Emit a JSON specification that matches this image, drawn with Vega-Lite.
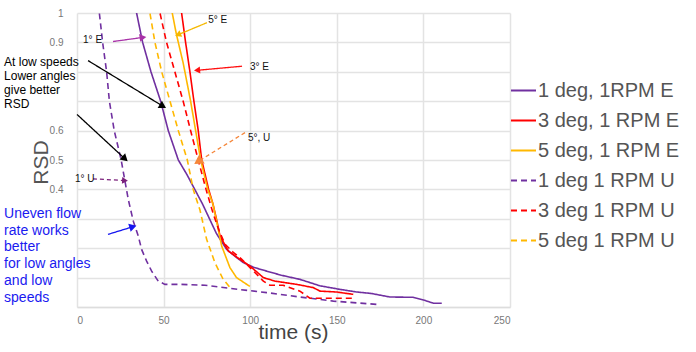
{
  "$schema": "https://vega.github.io/schema/vega-lite/v6.json",
  "width": 433,
  "height": 294,
  "autosize": {"type": "none"},
  "padding": {"left": 77, "top": 13, "right": 186, "bottom": 45},
  "background": "white",
  "config": {
    "view": {"stroke": null},
    "font": "Liberation Sans",
    "axis": {"gridColor": "#e3e3e3", "gridWidth": 1.5, "ticks": false, "labelFont": "Liberation Sans", "titleFont": "Liberation Sans", "labelOverlap": false},
    "legend": {"labelFont": "Liberation Sans"}
  },
  "datasets": {
    "curves": [
      {"series": "1 deg, 1RPM E", "t": 31, "rsd": 1.1},
      {"series": "1 deg, 1RPM E", "t": 34.4, "rsd": 1.0},
      {"series": "1 deg, 1RPM E", "t": 37.9, "rsd": 0.9},
      {"series": "1 deg, 1RPM E", "t": 42.7, "rsd": 0.8},
      {"series": "1 deg, 1RPM E", "t": 48.3, "rsd": 0.7},
      {"series": "1 deg, 1RPM E", "t": 52.7, "rsd": 0.6},
      {"series": "1 deg, 1RPM E", "t": 58.5, "rsd": 0.5},
      {"series": "1 deg, 1RPM E", "t": 63.5, "rsd": 0.45},
      {"series": "1 deg, 1RPM E", "t": 68, "rsd": 0.4},
      {"series": "1 deg, 1RPM E", "t": 72.5, "rsd": 0.35},
      {"series": "1 deg, 1RPM E", "t": 76.5, "rsd": 0.3},
      {"series": "1 deg, 1RPM E", "t": 80.5, "rsd": 0.25},
      {"series": "1 deg, 1RPM E", "t": 86.4, "rsd": 0.196},
      {"series": "1 deg, 1RPM E", "t": 92.2, "rsd": 0.168},
      {"series": "1 deg, 1RPM E", "t": 96, "rsd": 0.151},
      {"series": "1 deg, 1RPM E", "t": 102, "rsd": 0.135},
      {"series": "1 deg, 1RPM E", "t": 109.5, "rsd": 0.122},
      {"series": "1 deg, 1RPM E", "t": 118, "rsd": 0.108},
      {"series": "1 deg, 1RPM E", "t": 128.7, "rsd": 0.094},
      {"series": "1 deg, 1RPM E", "t": 140.3, "rsd": 0.072},
      {"series": "1 deg, 1RPM E", "t": 151.8, "rsd": 0.06},
      {"series": "1 deg, 1RPM E", "t": 161.5, "rsd": 0.051},
      {"series": "1 deg, 1RPM E", "t": 170, "rsd": 0.046},
      {"series": "1 deg, 1RPM E", "t": 180.7, "rsd": 0.034},
      {"series": "1 deg, 1RPM E", "t": 194, "rsd": 0.033},
      {"series": "1 deg, 1RPM E", "t": 200, "rsd": 0.024},
      {"series": "1 deg, 1RPM E", "t": 205.7, "rsd": 0.013},
      {"series": "1 deg, 1RPM E", "t": 210.6, "rsd": 0.013},

      {"series": "3 deg, 1 RPM E", "t": 59.5, "rsd": 1.1},
      {"series": "3 deg, 1 RPM E", "t": 60.4, "rsd": 1.0},
      {"series": "3 deg, 1 RPM E", "t": 62.7, "rsd": 0.9},
      {"series": "3 deg, 1 RPM E", "t": 65.2, "rsd": 0.8},
      {"series": "3 deg, 1 RPM E", "t": 67.5, "rsd": 0.7},
      {"series": "3 deg, 1 RPM E", "t": 70, "rsd": 0.6},
      {"series": "3 deg, 1 RPM E", "t": 72, "rsd": 0.5},
      {"series": "3 deg, 1 RPM E", "t": 76, "rsd": 0.4},
      {"series": "3 deg, 1 RPM E", "t": 78.5, "rsd": 0.35},
      {"series": "3 deg, 1 RPM E", "t": 80.5, "rsd": 0.3},
      {"series": "3 deg, 1 RPM E", "t": 82.6, "rsd": 0.241},
      {"series": "3 deg, 1 RPM E", "t": 87.4, "rsd": 0.19},
      {"series": "3 deg, 1 RPM E", "t": 94.1, "rsd": 0.162},
      {"series": "3 deg, 1 RPM E", "t": 99.9, "rsd": 0.139},
      {"series": "3 deg, 1 RPM E", "t": 107.6, "rsd": 0.1},
      {"series": "3 deg, 1 RPM E", "t": 114.3, "rsd": 0.088},
      {"series": "3 deg, 1 RPM E", "t": 126.8, "rsd": 0.077},
      {"series": "3 deg, 1 RPM E", "t": 136.4, "rsd": 0.066},
      {"series": "3 deg, 1 RPM E", "t": 140.3, "rsd": 0.054},
      {"series": "3 deg, 1 RPM E", "t": 149.9, "rsd": 0.051},
      {"series": "3 deg, 1 RPM E", "t": 159.5, "rsd": 0.043},

      {"series": "5 deg, 1 RPM E", "t": 54.3, "rsd": 1.1},
      {"series": "5 deg, 1 RPM E", "t": 55, "rsd": 1.0},
      {"series": "5 deg, 1 RPM E", "t": 57.3, "rsd": 0.93},
      {"series": "5 deg, 1 RPM E", "t": 58.5, "rsd": 0.9},
      {"series": "5 deg, 1 RPM E", "t": 61.3, "rsd": 0.83},
      {"series": "5 deg, 1 RPM E", "t": 62.3, "rsd": 0.8},
      {"series": "5 deg, 1 RPM E", "t": 65.6, "rsd": 0.7},
      {"series": "5 deg, 1 RPM E", "t": 68.5, "rsd": 0.6},
      {"series": "5 deg, 1 RPM E", "t": 71.4, "rsd": 0.5},
      {"series": "5 deg, 1 RPM E", "t": 75.5, "rsd": 0.4},
      {"series": "5 deg, 1 RPM E", "t": 78.5, "rsd": 0.35},
      {"series": "5 deg, 1 RPM E", "t": 81, "rsd": 0.28},
      {"series": "5 deg, 1 RPM E", "t": 83.5, "rsd": 0.208},
      {"series": "5 deg, 1 RPM E", "t": 88.3, "rsd": 0.134},
      {"series": "5 deg, 1 RPM E", "t": 92.1, "rsd": 0.1},
      {"series": "5 deg, 1 RPM E", "t": 99.8, "rsd": 0.07},

      {"series": "1 deg 1 RPM U", "t": 11.5, "rsd": 1.1},
      {"series": "1 deg 1 RPM U", "t": 12.9, "rsd": 1.0},
      {"series": "1 deg 1 RPM U", "t": 14.8, "rsd": 0.9},
      {"series": "1 deg 1 RPM U", "t": 17.1, "rsd": 0.8},
      {"series": "1 deg 1 RPM U", "t": 18.7, "rsd": 0.7},
      {"series": "1 deg 1 RPM U", "t": 21.5, "rsd": 0.6},
      {"series": "1 deg 1 RPM U", "t": 25.5, "rsd": 0.5},
      {"series": "1 deg 1 RPM U", "t": 27.7, "rsd": 0.428},
      {"series": "1 deg 1 RPM U", "t": 29.6, "rsd": 0.366},
      {"series": "1 deg 1 RPM U", "t": 32.5, "rsd": 0.292},
      {"series": "1 deg 1 RPM U", "t": 35.4, "rsd": 0.241},
      {"series": "1 deg 1 RPM U", "t": 37.3, "rsd": 0.196},
      {"series": "1 deg 1 RPM U", "t": 40.2, "rsd": 0.156},
      {"series": "1 deg 1 RPM U", "t": 43.1, "rsd": 0.122},
      {"series": "1 deg 1 RPM U", "t": 46.9, "rsd": 0.088},
      {"series": "1 deg 1 RPM U", "t": 50.8, "rsd": 0.077},
      {"series": "1 deg 1 RPM U", "t": 59.5, "rsd": 0.077},
      {"series": "1 deg 1 RPM U", "t": 73.9, "rsd": 0.074},
      {"series": "1 deg 1 RPM U", "t": 90.2, "rsd": 0.062},
      {"series": "1 deg 1 RPM U", "t": 109.5, "rsd": 0.049},
      {"series": "1 deg 1 RPM U", "t": 128.7, "rsd": 0.034},
      {"series": "1 deg 1 RPM U", "t": 148, "rsd": 0.02},
      {"series": "1 deg 1 RPM U", "t": 173, "rsd": 0.009},

      {"series": "3 deg 1 RPM U", "t": 47, "rsd": 1.1},
      {"series": "3 deg 1 RPM U", "t": 47.9, "rsd": 1.0},
      {"series": "3 deg 1 RPM U", "t": 51.7, "rsd": 0.9},
      {"series": "3 deg 1 RPM U", "t": 56.5, "rsd": 0.8},
      {"series": "3 deg 1 RPM U", "t": 61.3, "rsd": 0.7},
      {"series": "3 deg 1 RPM U", "t": 65.6, "rsd": 0.6},
      {"series": "3 deg 1 RPM U", "t": 70, "rsd": 0.5},
      {"series": "3 deg 1 RPM U", "t": 74.5, "rsd": 0.4},
      {"series": "3 deg 1 RPM U", "t": 78.5, "rsd": 0.32},
      {"series": "3 deg 1 RPM U", "t": 82, "rsd": 0.26},
      {"series": "3 deg 1 RPM U", "t": 85.4, "rsd": 0.214},
      {"series": "3 deg 1 RPM U", "t": 90.2, "rsd": 0.186},
      {"series": "3 deg 1 RPM U", "t": 95, "rsd": 0.163},
      {"series": "3 deg 1 RPM U", "t": 99.9, "rsd": 0.134},
      {"series": "3 deg 1 RPM U", "t": 107.6, "rsd": 0.088},
      {"series": "3 deg 1 RPM U", "t": 111.4, "rsd": 0.074},
      {"series": "3 deg 1 RPM U", "t": 119, "rsd": 0.074},
      {"series": "3 deg 1 RPM U", "t": 128.7, "rsd": 0.054},
      {"series": "3 deg 1 RPM U", "t": 134.5, "rsd": 0.03},
      {"series": "3 deg 1 RPM U", "t": 160.4, "rsd": 0.03},

      {"series": "5 deg 1 RPM U", "t": 41.5, "rsd": 1.1},
      {"series": "5 deg 1 RPM U", "t": 42.1, "rsd": 1.0},
      {"series": "5 deg 1 RPM U", "t": 45, "rsd": 0.9},
      {"series": "5 deg 1 RPM U", "t": 48.9, "rsd": 0.8},
      {"series": "5 deg 1 RPM U", "t": 53.7, "rsd": 0.7},
      {"series": "5 deg 1 RPM U", "t": 58.5, "rsd": 0.6},
      {"series": "5 deg 1 RPM U", "t": 63.7, "rsd": 0.5},
      {"series": "5 deg 1 RPM U", "t": 67.1, "rsd": 0.4},
      {"series": "5 deg 1 RPM U", "t": 71, "rsd": 0.33},
      {"series": "5 deg 1 RPM U", "t": 74.8, "rsd": 0.231},
      {"series": "5 deg 1 RPM U", "t": 79.6, "rsd": 0.151},
      {"series": "5 deg 1 RPM U", "t": 84.4, "rsd": 0.094},
      {"series": "5 deg 1 RPM U", "t": 89.3, "rsd": 0.06}
    ],
    "arrows": [
      {"arrow": "1E", "t": 20.8, "rsd": 0.903, "t2": 38.1, "rsd2": 0.917},
      {"arrow": "5E", "t": 75, "rsd": 0.967, "t2": 58.3, "rsd2": 0.926},
      {"arrow": "3E", "t": 95.3, "rsd": 0.819, "t2": 69.3, "rsd2": 0.805},
      {"arrow": "low1", "t": 6.4, "rsd": 0.838, "t2": 49.6, "rsd2": 0.683},
      {"arrow": "low2", "t": 0, "rsd": 0.655, "t2": 27.7, "rsd2": 0.504},
      {"arrow": "5U", "t": 97, "rsd": 0.593, "t2": 69.9, "rsd2": 0.495},
      {"arrow": "1U", "t": 9.2, "rsd": 0.436, "t2": 27.7, "rsd2": 0.43},
      {"arrow": "blue", "t": 17.9, "rsd": 0.247, "t2": 32.3, "rsd2": 0.273}
    ],
    "notes": [
      {"note": "small", "t": 3.5, "rsd": 0.907, "label": "1° E"},
      {"note": "small", "t": 75.8, "rsd": 0.977, "label": "5° E"},
      {"note": "small", "t": 99.9, "rsd": 0.815, "label": "3° E"},
      {"note": "small", "t": 98.7, "rsd": 0.576, "label": "5°, U"},
      {"note": "small", "t": -1.2, "rsd": 0.436, "label": "1° U"},
      {"note": "black", "t": -42.1, "rsd": 0.852, "label": "At low speeds\nLower angles\ngive better\nRSD"},
      {"note": "blue", "t": -42.1, "rsd": 0.34, "label": "Uneven flow\nrate works\nbetter\nfor low angles\nand low\nspeeds"}
    ]
  },
  "layer": [
    {
      "data": {"name": "curves"},
      "mark": {"type": "line", "clip": true, "strokeWidth": 1.6},
      "encoding": {
        "x": {"field": "t", "type": "quantitative",
          "scale": {"domain": [0, 250], "nice": false, "zero": false},
          "axis": {"values": [0, 50, 100, 150, 200, 250], "tickCount": 6, "title": "time (s)", "titleFontSize": 21, "titleFontWeight": "normal", "titleColor": "#444",
            "titleX": 216, "titleY": 31, "titleBaseline": "alphabetic", "titleAlign": "center",
            "labelFontSize": 10, "labelColor": "#777", "labelPadding": 8, "domainColor": "#dddddd", "domainWidth": 1.5}},
        "y": {"field": "rsd", "type": "quantitative",
          "scale": {"domain": [0, 1], "nice": false, "zero": false},
          "axis": {"values": [0, 0.1, 0.2, 0.3, 0.4, 0.5, 0.6, 0.7, 0.8, 0.9, 1], "tickCount": 11, "format": ".1~f",
            "labelExpr": "indexof(['1','0.9','0.6','0.5','0.4'], datum.label) >= 0 ? datum.label : ''",
            "title": "RSD", "titleFontSize": 21, "titleFontWeight": "normal", "titleColor": "#555",
            "titleX": -30, "titleY": 149, "titleAngle": 270, "titleBaseline": "alphabetic", "titleAlign": "center",
            "labelFontSize": 10, "labelColor": "#777", "labelPadding": 14, "domain": false}},
        "color": {"field": "series", "type": "nominal",
          "scale": {"domain": ["1 deg, 1RPM E", "3 deg, 1 RPM E", "5 deg, 1 RPM E", "1 deg 1 RPM U", "3 deg 1 RPM U", "5 deg 1 RPM U"],
            "range": ["#7030A0", "#FF0000", "#FFB800", "#7030A0", "#FF0000", "#FFB800"]},
          "legend": {"title": null, "orient": "none", "legendX": 433, "legendY": 64, "padding": 0,
            "symbolType": "stroke", "symbolSize": 625, "symbolStrokeWidth": 2, "labelOffset": 1,
            "labelFontSize": 20, "labelColor": "#555", "rowPadding": 6, "labelLimit": 300}},
        "strokeDash": {"field": "series", "type": "nominal",
          "scale": {"domain": ["1 deg, 1RPM E", "3 deg, 1 RPM E", "5 deg, 1 RPM E", "1 deg 1 RPM U", "3 deg 1 RPM U", "5 deg 1 RPM U"],
            "range": [[1, 0], [1, 0], [1, 0], [6, 4], [6, 4], [6, 4]]},
          "legend": {"title": null, "orient": "none", "legendX": 433, "legendY": 64, "padding": 0,
            "symbolType": "stroke", "symbolSize": 625, "symbolStrokeWidth": 2, "labelOffset": 1,
            "labelFontSize": 20, "labelColor": "#555", "rowPadding": 6, "labelLimit": 300}}
      }
    },
    {
      "data": {"name": "arrows"},
      "mark": {"type": "rule", "strokeWidth": 1.3},
      "encoding": {
        "x": {"field": "t", "type": "quantitative"},
        "y": {"field": "rsd", "type": "quantitative"},
        "x2": {"field": "t2"},
        "y2": {"field": "rsd2"},
        "color": {"field": "arrow", "type": "nominal", "legend": null,
          "scale": {"domain": ["1E", "5E", "3E", "low1", "low2", "5U", "1U", "blue"],
            "range": ["#A832A8", "#F5B800", "#FF1010", "#000000", "#000000", "#F5863A", "#7A1F7A", "#1515F0"]}},
        "strokeDash": {"field": "arrow", "type": "nominal", "legend": null,
          "scale": {"domain": ["1E", "5E", "3E", "low1", "low2", "5U", "1U", "blue"],
            "range": [[1, 0], [1, 0], [1, 0], [1, 0], [1, 0], [4, 3], [4, 3], [1, 0]]}},
        "strokeWidth": {"field": "arrow", "type": "nominal", "legend": null,
          "scale": {"domain": ["1E", "5E", "3E", "low1", "low2", "5U", "1U", "blue"],
            "range": [1.5, 1.3, 1.3, 1.3, 1.3, 1.5, 1.3, 2.5]}}
      }
    },
    {"data": {"name": "arrows"}, "transform": [{"filter": "datum.arrow == '1E'"}],
      "mark": {"type": "point", "shape": "triangle-right", "filled": true, "size": 60, "angle": -8, "color": "#A832A8", "opacity": 1},
      "encoding": {"x": {"field": "t2", "type": "quantitative"}, "y": {"field": "rsd2", "type": "quantitative"}}},
    {"data": {"name": "arrows"}, "transform": [{"filter": "datum.arrow == '5E'"}],
      "mark": {"type": "point", "shape": "triangle-right", "filled": true, "size": 50, "angle": 157, "color": "#F5B800", "opacity": 1},
      "encoding": {"x": {"field": "t2", "type": "quantitative"}, "y": {"field": "rsd2", "type": "quantitative"}}},
    {"data": {"name": "arrows"}, "transform": [{"filter": "datum.arrow == '3E'"}],
      "mark": {"type": "point", "shape": "triangle-right", "filled": true, "size": 50, "angle": 175, "color": "#FF1010", "opacity": 1},
      "encoding": {"x": {"field": "t2", "type": "quantitative"}, "y": {"field": "rsd2", "type": "quantitative"}}},
    {"data": {"name": "arrows"}, "transform": [{"filter": "datum.arrow == 'low1'"}],
      "mark": {"type": "point", "shape": "triangle-right", "filled": true, "size": 70, "angle": 31, "color": "#000000", "opacity": 1},
      "encoding": {"x": {"field": "t2", "type": "quantitative"}, "y": {"field": "rsd2", "type": "quantitative"}}},
    {"data": {"name": "arrows"}, "transform": [{"filter": "datum.arrow == 'low2'"}],
      "mark": {"type": "point", "shape": "triangle-right", "filled": true, "size": 70, "angle": 43, "color": "#000000", "opacity": 1},
      "encoding": {"x": {"field": "t2", "type": "quantitative"}, "y": {"field": "rsd2", "type": "quantitative"}}},
    {"data": {"name": "arrows"}, "transform": [{"filter": "datum.arrow == '5U'"}],
      "mark": {"type": "point", "shape": "triangle-right", "filled": true, "size": 110, "angle": 148, "color": "#F5863A", "opacity": 1},
      "encoding": {"x": {"field": "t2", "type": "quantitative"}, "y": {"field": "rsd2", "type": "quantitative"}}},
    {"data": {"name": "arrows"}, "transform": [{"filter": "datum.arrow == '1U'"}],
      "mark": {"type": "point", "shape": "triangle-right", "filled": true, "size": 45, "angle": 3, "color": "#7A1F7A", "opacity": 1},
      "encoding": {"x": {"field": "t2", "type": "quantitative"}, "y": {"field": "rsd2", "type": "quantitative"}}},
    {"data": {"name": "arrows"}, "transform": [{"filter": "datum.arrow == 'blue'"}],
      "mark": {"type": "point", "shape": "triangle-right", "filled": true, "size": 70, "angle": -17, "color": "#1515F0", "opacity": 1},
      "encoding": {"x": {"field": "t2", "type": "quantitative"}, "y": {"field": "rsd2", "type": "quantitative"}}},
    {"data": {"name": "notes"}, "transform": [{"filter": "datum.note == 'small'"}],
      "mark": {"type": "text", "align": "left", "baseline": "middle", "fontSize": 10, "color": "#111"},
      "encoding": {"x": {"field": "t", "type": "quantitative"}, "y": {"field": "rsd", "type": "quantitative"}, "text": {"field": "label"}}},
    {"data": {"name": "notes"}, "transform": [{"filter": "datum.note == 'black'"}],
      "mark": {"type": "text", "align": "left", "baseline": "top", "fontSize": 12, "lineHeight": 14.1, "lineBreak": "\n", "color": "#000"},
      "encoding": {"x": {"field": "t", "type": "quantitative"}, "y": {"field": "rsd", "type": "quantitative"}, "text": {"field": "label"}}},
    {"data": {"name": "notes"}, "transform": [{"filter": "datum.note == 'blue'"}],
      "mark": {"type": "text", "align": "left", "baseline": "top", "fontSize": 14, "lineHeight": 16.7, "lineBreak": "\n", "color": "#1A1AF0"},
      "encoding": {"x": {"field": "t", "type": "quantitative"}, "y": {"field": "rsd", "type": "quantitative"}, "text": {"field": "label"}}}
  ],
  "resolve": {"scale": {"color": "independent", "strokeDash": "independent"}}
}
